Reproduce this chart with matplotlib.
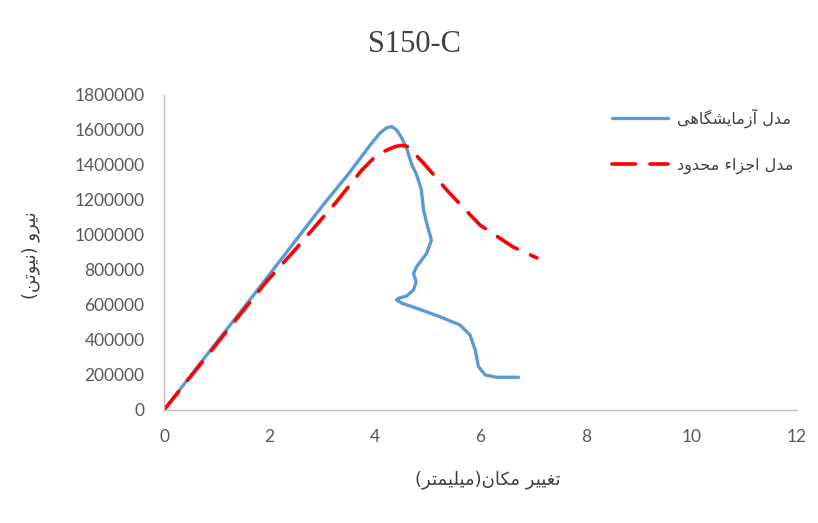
import matplotlib
matplotlib.use("Agg")
import matplotlib.pyplot as plt
from matplotlib.ticker import FuncFormatter

# test data (mm, N)
lab_x = [0, 0.5, 1.0, 1.725, 2.5, 2.99, 3.5, 3.91, 4.09, 4.22, 4.32, 4.41, 4.51, 4.60, 4.70, 4.79,
         4.88, 4.92, 4.98, 5.07, 4.98, 4.79, 4.73, 4.78, 4.73, 4.60, 4.44, 4.41, 4.51, 4.79, 5.23,
         5.61, 5.80, 5.90, 5.96, 6.09, 6.30, 6.72]
lab_y = [0, 194000, 388000, 667000, 970000, 1162000, 1350000, 1514000, 1581000, 1613000, 1619000,
         1600000, 1553000, 1495000, 1400000, 1343000, 1257000, 1143000, 1067000, 971000, 895000,
         819000, 781000, 733000, 686000, 651000, 638000, 629000, 610000, 581000, 533000, 486000,
         429000, 343000, 248000, 200000, 187000, 187000]

fem_x = [0, 0.78, 1.915, 2.48, 3.27, 3.75, 3.97, 4.15, 4.38, 4.5, 4.63, 4.95, 5.39, 5.99, 6.62, 7.07]
fem_y = [0, 295000, 724000, 914000, 1190000, 1371000, 1438000, 1475000, 1505000, 1512000, 1505000,
         1400000, 1247000, 1057000, 931000, 869000]

x_ticks = [0, 2, 4, 6, 8, 10, 12]
y_ticks = list(range(0, 1800001, 200000))

title = "S150-C"
x_label = "تغییر مکان(میلیمتر)"
y_label = "نیرو (نیوتن)"
legend_labels = ["مدل آزمایشگاهی", "مدل اجزاء محدود"]


# matplotlib does no arabic shaping, so do it by hand with presentation forms
forms = {  # isolated, final, initial, medial
    "ا": ("\uFE8D", "\uFE8E"), "آ": ("\uFE81", "\uFE82"), "ء": ("\uFE80",),
    "د": ("\uFEA9", "\uFEAA"), "ر": ("\uFEAD", "\uFEAE"), "ز": ("\uFEAF", "\uFEB0"),
    "و": ("\uFEED", "\uFEEE"),
    "ت": ("\uFE95", "\uFE96", "\uFE97", "\uFE98"), "ج": ("\uFE9D", "\uFE9E", "\uFE9F", "\uFEA0"),
    "ح": ("\uFEA1", "\uFEA2", "\uFEA3", "\uFEA4"), "ش": ("\uFEB5", "\uFEB6", "\uFEB7", "\uFEB8"),
    "غ": ("\uFECD", "\uFECE", "\uFECF", "\uFED0"), "ل": ("\uFEDD", "\uFEDE", "\uFEDF", "\uFEE0"),
    "م": ("\uFEE1", "\uFEE2", "\uFEE3", "\uFEE4"), "ن": ("\uFEE5", "\uFEE6", "\uFEE7", "\uFEE8"),
    "ه": ("\uFEE9", "\uFEEA", "\uFEEB", "\uFEEC"), "ی": ("\uFBFC", "\uFBFD", "\uFBFE", "\uFBFF"),
    "ک": ("\uFB8E", "\uFB8F", "\uFB90", "\uFB91"), "گ": ("\uFB92", "\uFB93", "\uFB94", "\uFB95"),
}


def fa(s):
    out = []
    for i, c in enumerate(s):
        if c not in forms:
            out.append({"(": ")", ")": "("}.get(c, c))
            continue
        prev = s[i - 1] if i > 0 else ""
        nxt = s[i + 1] if i < len(s) - 1 else ""
        join_prev = prev in forms and len(forms[prev]) == 4 and len(forms[c]) > 1
        join_next = len(forms[c]) == 4 and nxt in forms and len(forms[nxt]) > 1
        f = forms[c]
        if join_prev and join_next:
            out.append(f[3])
        elif join_prev:
            out.append(f[1])
        elif join_next:
            out.append(f[2])
        else:
            out.append(f[0])
    return "".join(reversed(out))


fig = plt.figure(figsize=(8.18, 5.23), dpi=100)
ax = fig.add_axes([0.2005, 0.2161, 0.7738, 0.6023])

ax.plot(lab_x, lab_y, color="#5B9BD5", lw=2.4, solid_capstyle="round", solid_joinstyle="round",
        label=fa(legend_labels[0]))
ax.plot(fem_x, fem_y, color="#FF0000", lw=2.6, dashes=(6.5, 4), dash_capstyle="round",
        label=fa(legend_labels[1]))

ax.set_xlim(0, 12)
ax.set_ylim(0, 1800000)
ax.set_xticks(x_ticks)
ax.set_yticks(y_ticks)
ax.yaxis.set_major_formatter(FuncFormatter(lambda v, p: "%d" % v))
ax.tick_params(length=0, pad=14, labelsize=12.5, labelcolor="#595959")
for lbl in ax.get_xticklabels() + ax.get_yticklabels():
    lbl.set_fontfamily("Lato")

for s in ["top", "right"]:
    ax.spines[s].set_visible(False)
for s in ["left", "bottom"]:
    ax.spines[s].set_color("#BFBFBF")
    ax.spines[s].set_linewidth(1)

fig.text(0.507, 0.914, title, ha="center", va="center", fontsize=22,
         family="Liberation Serif", color="#404040")
fig.text(0.596, 0.082, fa(x_label), ha="center", va="center", fontsize=13,
         family="DejaVu Sans", color="#404040")
fig.text(0.037, 0.512, fa(y_label), ha="center", va="center", fontsize=13, rotation=90,
         family="DejaVu Sans", color="#404040")

leg = fig.legend(loc="upper left", bbox_to_anchor=(0.748, 0.792), frameon=False,
                 borderpad=0, borderaxespad=0,
                 handlelength=3.5, labelspacing=1.85, handletextpad=0.6,
                 prop={"family": "DejaVu Sans", "size": 11.5})
for t in leg.get_texts():
    t.set_color("#404040")

fig.savefig("out.png", dpi=100)
